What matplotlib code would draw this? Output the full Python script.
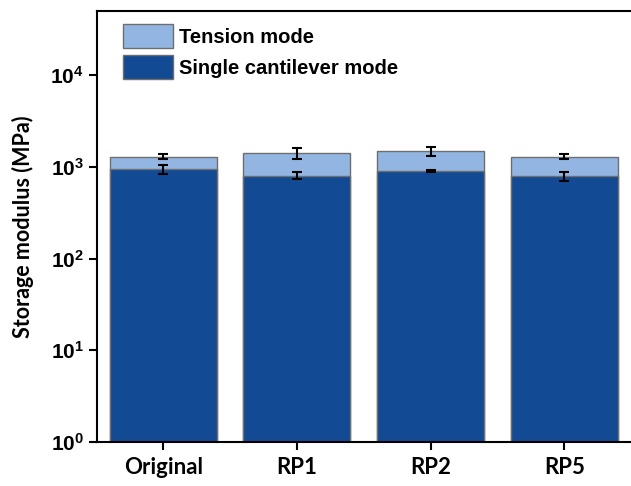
import numpy as np
import matplotlib
matplotlib.use("Agg")
import matplotlib.pyplot as plt

# データ (MPa)
samples = ["Original", "RP1", "RP2", "RP5"]
tension = [1295, 1410, 1480, 1295]
tension_err = [85, 200, 155, 85]
cantilever = [944, 798, 898, 798]
cantilever_err = [110, 70, 15, 90]

light = "#93b5e1"
dark = "#134a94"
edge = "#6e6e6e"

W, H, DPI = 631, 486, 100
fig = plt.figure(figsize=(W / DPI, H / DPI), dpi=DPI)
ax = fig.add_axes([97 / W, 1 - 442 / H, (634 - 97) / W, (442 - 11) / H])

x = np.arange(len(samples))
ax.bar(x, tension, width=0.8, bottom=0, color=light, edgecolor=edge,
       linewidth=1.0, label="Tension mode", zorder=1)
ax.bar(x, cantilever, width=0.8, bottom=0, color=dark, edgecolor=edge,
       linewidth=1.0, label="Single cantilever mode", zorder=2)
ax.errorbar(x, tension, yerr=tension_err, fmt="none", ecolor="black",
            elinewidth=1.5, capsize=3.5, capthick=1.5, zorder=3)
ax.errorbar(x, cantilever, yerr=cantilever_err, fmt="none", ecolor="black",
            elinewidth=1.5, capsize=3.5, capthick=1.5, zorder=3)

ax.set_yscale("log")
ax.set_ylim(1, 5e4)
ax.set_xlim(-0.495, 3.52)
ax.set_yticks([1, 10, 100, 1000, 10000])
ax.yaxis.set_minor_locator(matplotlib.ticker.NullLocator())
ax.set_xticks(x)
ax.set_xticklabels(samples, fontfamily="Lato", fontweight="bold", fontsize=16)
for lab in ax.get_yticklabels():
    lab.set_fontfamily("Liberation Sans")
    lab.set_fontweight("bold")
    lab.set_fontsize(15)

ax.tick_params(axis="both", direction="out", length=6, width=1.5)
ax.tick_params(axis="x", pad=5)
for s in ax.spines.values():
    s.set_linewidth(1.5)

ax.set_ylabel("Storage modulus (MPa)", fontfamily="Lato", fontweight="bold",
              fontsize=15.5, labelpad=12)

leg = ax.legend(loc="upper left", frameon=False, bbox_to_anchor=(0.015, 1.012),
                handlelength=2.45, handleheight=1.45, handletextpad=0.3,
                labelspacing=0.35, borderaxespad=0.5,
                prop={"family": "Liberation Sans", "weight": "bold", "size": 14.5})

fig.savefig("out.png", dpi=DPI, facecolor="white")
